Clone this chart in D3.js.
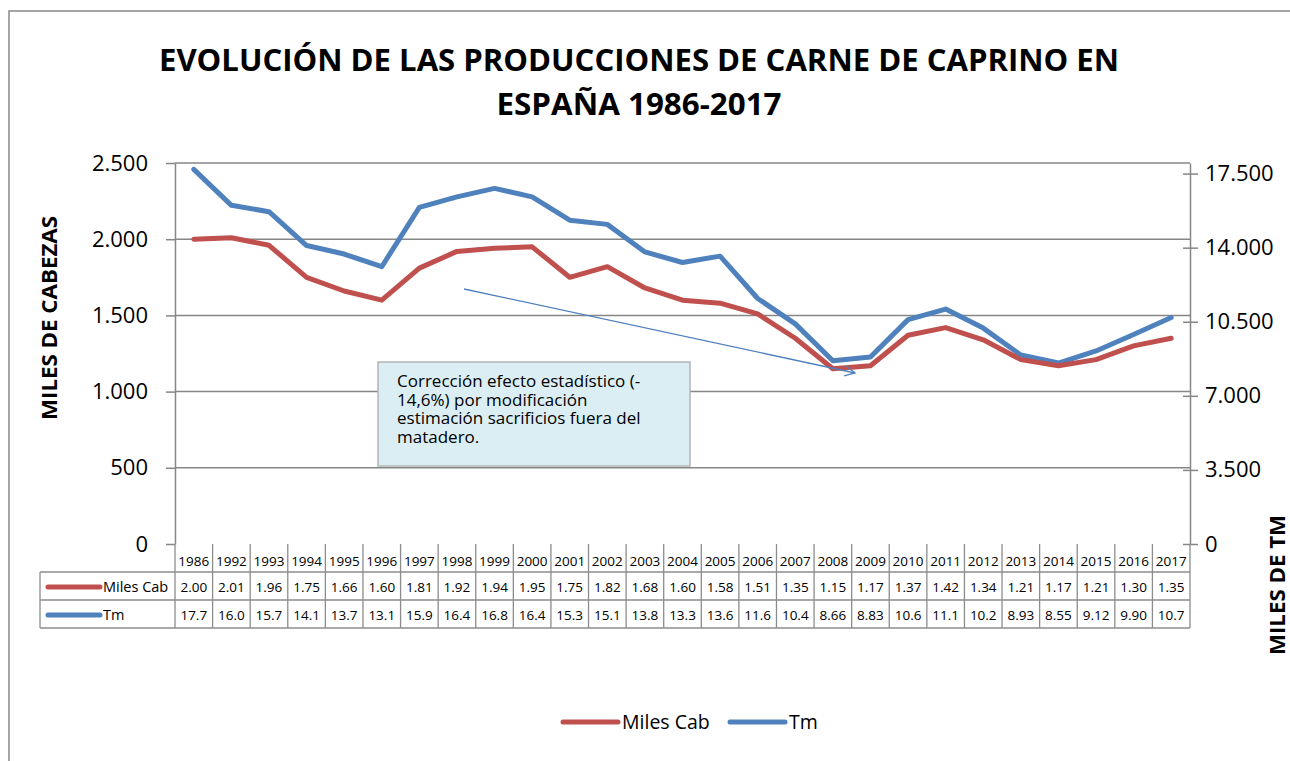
<!DOCTYPE html>
<html>
<head>
<meta charset="utf-8">
<script src="https://cdn.jsdelivr.net/npm/d3@7"></script>
<style>
  body { margin: 0; background: #fff; }
  svg { display: block; font-family: "Open Sans", sans-serif; }
</style>
</head>
<body>
<svg id="chart" width="1290" height="761"></svg>
<script>
var years = ["1986","1992","1993","1994","1995","1996","1997","1998","1999","2000","2001","2002","2003","2004","2005","2006","2007","2008","2009","2010","2011","2012","2013","2014","2015","2016","2017"];
var milesCab = [2.00,2.01,1.96,1.75,1.66,1.60,1.81,1.92,1.94,1.95,1.75,1.82,1.68,1.60,1.58,1.51,1.35,1.15,1.17,1.37,1.42,1.34,1.21,1.17,1.21,1.30,1.35];
var tm = [17.7,16.0,15.7,14.1,13.7,13.1,15.9,16.4,16.8,16.4,15.3,15.1,13.8,13.3,13.6,11.6,10.4,8.66,8.83,10.6,11.1,10.2,8.93,8.55,9.12,9.90,10.7];
var leftTicks = [0,500,1000,1500,2000,2500];
var rightTicks = [0,3500,7000,10500,14000,17500];
var seriesNames = ["Miles Cab","Tm"];
var titleLines = ["EVOLUCIÓN DE LAS PRODUCCIONES DE CARNE DE CAPRINO EN","ESPAÑA 1986-2017"];
var noteLines = ["Corrección efecto estadístico (-","14,6%) por modificación","estimación sacrificios fuera del","matadero."];

var red = "#c0504d", blue = "#4f81bd", grid = "#868686";
var svg = d3.select("#chart");

//plot area edges
var pLeft = 175, pRight = 1190, pTop = 163, pBottom = 544;
var es = d3.formatLocale({decimal: ",", thousands: ".", grouping: [3], currency: ["", ""]});
var fmt = es.format(",");

var x = d3.scaleBand().domain(years).range([pLeft, pRight]);
var yL = d3.scaleLinear().domain([0, 2500]).range([pBottom, pTop]);
var yR = d3.scaleLinear().domain([0, 18000]).range([pBottom, pTop]);
var cx = function(d) { return x(d) + x.bandwidth() / 2; };

//outer chart border
svg.append("rect")
    .attr("x", 9).attr("y", 11)
    .attr("width", 1300).attr("height", 800)
    .attr("fill", "none")
    .attr("stroke", "#888").attr("stroke-width", 1.5);

//title
svg.selectAll(".title")
    .data(titleLines)
    .enter().append("text")
    .attr("class", "title")
    .attr("x", 639)
    .attr("y", function(d, i) { return 71 + i * 44; })
    .attr("text-anchor", "middle")
    .attr("textLength", function(d, i) { return i === 0 ? 960 : 285; })
    .attr("lengthAdjust", "spacingAndGlyphs")
    .style("font-size", "31px")
    .style("font-weight", "bold")
    .text(function(d) { return d; });

//gridlines
svg.append("g")
    .selectAll("line")
    .data(leftTicks.slice(1))
    .enter().append("line")
    .attr("x1", pLeft).attr("x2", pRight)
    .attr("y1", function(d) { return yL(d); })
    .attr("y2", function(d) { return yL(d); })
    .attr("stroke", grid).attr("stroke-width", 1.5);

//left axis
var gl = svg.append("g")
    .attr("transform", "translate(" + pLeft + ",0)")
    .call(d3.axisLeft(yL).tickValues(leftTicks).tickFormat(fmt).tickSizeInner(9).tickSizeOuter(0).tickPadding(18));
gl.select(".domain").attr("stroke", grid).attr("stroke-width", 1.5);
gl.selectAll(".tick line").attr("stroke", grid).attr("stroke-width", 1.5);
gl.selectAll(".tick text").style("font-size", "22px").attr("fill", "#000").attr("font-family", "Open Sans");

//right axis
var gr = svg.append("g")
    .attr("transform", "translate(" + pRight + ",0)")
    .call(d3.axisRight(yR).tickValues(rightTicks).tickFormat(fmt).tickSizeInner(8).tickSizeOuter(0).tickPadding(7));
gr.select(".domain").attr("stroke", grid).attr("stroke-width", 1.5);
gr.selectAll(".tick line").attr("x1", -7).attr("stroke", grid).attr("stroke-width", 1.5);
gr.selectAll(".tick text").style("font-size", "22px").attr("fill", "#000").attr("font-family", "Open Sans");

//axis titles
svg.append("text")
    .attr("transform", "translate(57,318) rotate(-90)")
    .attr("text-anchor", "middle")
    .attr("textLength", 204).attr("lengthAdjust", "spacingAndGlyphs")
    .style("font-size", "21px").style("font-weight", "bold")
    .text("MILES DE CABEZAS");
svg.append("text")
    .attr("transform", "translate(1285,585) rotate(-90)")
    .attr("text-anchor", "middle")
    .attr("textLength", 140).attr("lengthAdjust", "spacingAndGlyphs")
    .style("font-size", "21px").style("font-weight", "bold")
    .text("MILES DE TM");

//series lines
var lineL = d3.line().x(function(d, i) { return cx(years[i]); }).y(function(d) { return yL(d * 1000); });
var lineR = d3.line().x(function(d, i) { return cx(years[i]); }).y(function(d) { return yR(d * 1000); });
svg.append("path").datum(tm)
    .attr("d", lineR)
    .attr("fill", "none").attr("stroke", blue)
    .attr("stroke-width", 5).attr("stroke-linejoin", "round").attr("stroke-linecap", "round");
svg.append("path").datum(milesCab)
    .attr("d", lineL)
    .attr("fill", "none").attr("stroke", red)
    .attr("stroke-width", 5).attr("stroke-linejoin", "round").attr("stroke-linecap", "round");

//annotation arrow
svg.append("defs").append("marker")
    .attr("id", "open-arrow")
    .attr("viewBox", "0 0 12 12")
    .attr("refX", 11).attr("refY", 6)
    .attr("markerWidth", 12).attr("markerHeight", 12)
    .attr("markerUnits", "userSpaceOnUse")
    .attr("orient", "auto")
    .append("path")
    .attr("d", "M1,1 L11,6 L1,11")
    .attr("fill", "none").attr("stroke", blue).attr("stroke-width", 1.3);
svg.append("line")
    .attr("x1", 464).attr("y1", 289)
    .attr("x2", 855).attr("y2", 373)
    .attr("stroke", blue).attr("stroke-width", 1.3)
    .attr("marker-end", "url(#open-arrow)");

//annotation box
svg.append("rect")
    .attr("x", 378).attr("y", 362)
    .attr("width", 312).attr("height", 104)
    .attr("fill", "#dbeef4")
    .attr("stroke", "#b4b4b4").attr("stroke-width", 1.5);
svg.append("g").selectAll("text")
    .data(noteLines)
    .enter().append("text")
    .attr("x", 397)
    .attr("y", function(d, i) { return 387 + i * 18.5; })
    .style("font-size", "17px")
    .text(function(d) { return d; });

//data table
var rowY = [544, 572, 600, 628];
var tbl = svg.append("g").attr("stroke", "#8c8c8c").attr("stroke-width", 1.3);
//vertical lines between categories
tbl.selectAll(".vline")
    .data(years.concat(["end"]))
    .enter().append("line")
    .attr("x1", function(d, i) { return i < years.length ? x(d) : pRight; })
    .attr("x2", function(d, i) { return i < years.length ? x(d) : pRight; })
    .attr("y1", rowY[0]).attr("y2", rowY[3]);
//horizontal lines
tbl.selectAll(".hline")
    .data(rowY.slice(1))
    .enter().append("line")
    .attr("x1", 40).attr("x2", pRight)
    .attr("y1", function(d) { return d; })
    .attr("y2", function(d) { return d; });
tbl.append("line")
    .attr("x1", 40).attr("x2", 40)
    .attr("y1", rowY[1]).attr("y2", rowY[3]);

//year headers
svg.append("g").selectAll("text")
    .data(years)
    .enter().append("text")
    .attr("x", function(d) { return cx(d); })
    .attr("y", 566)
    .attr("text-anchor", "middle")
    .style("font-size", "13.5px")
    .text(function(d) { return d; });

//table values
var rows = [
    {name: seriesNames[0], color: red, values: milesCab, f: function(v) { return v.toFixed(2); }},
    {name: seriesNames[1], color: blue, values: tm, f: function(v) { return v.toPrecision(3); }}
];
rows.forEach(function(r, ri) {
    var ty = (rowY[ri + 1] + rowY[ri + 2]) / 2 + 6;
    svg.append("line")
        .attr("x1", 48).attr("x2", 100)
        .attr("y1", ty - 5).attr("y2", ty - 5)
        .attr("stroke", r.color).attr("stroke-width", 5).attr("stroke-linecap", "round");
    svg.append("text")
        .attr("x", 103).attr("y", ty)
        .style("font-size", "14.5px")
        .text(r.name);
    svg.append("g").selectAll("text")
        .data(r.values)
        .enter().append("text")
        .attr("x", function(d, i) { return cx(years[i]); })
        .attr("y", ty)
        .attr("text-anchor", "middle")
        .style("font-size", "13.5px")
        .text(function(d) { return r.f(d); });
});

//legend
var legend = svg.append("g");
var legendX = [563, 730];
rows.forEach(function(r, i) {
    legend.append("line")
        .attr("x1", legendX[i]).attr("x2", legendX[i] + 55)
        .attr("y1", 722).attr("y2", 722)
        .attr("stroke", r.color).attr("stroke-width", 5).attr("stroke-linecap", "round");
    legend.append("text")
        .attr("x", legendX[i] + 59).attr("y", 729)
        .style("font-size", "19.5px")
        .text(r.name);
});
</script>
</body>
</html>
